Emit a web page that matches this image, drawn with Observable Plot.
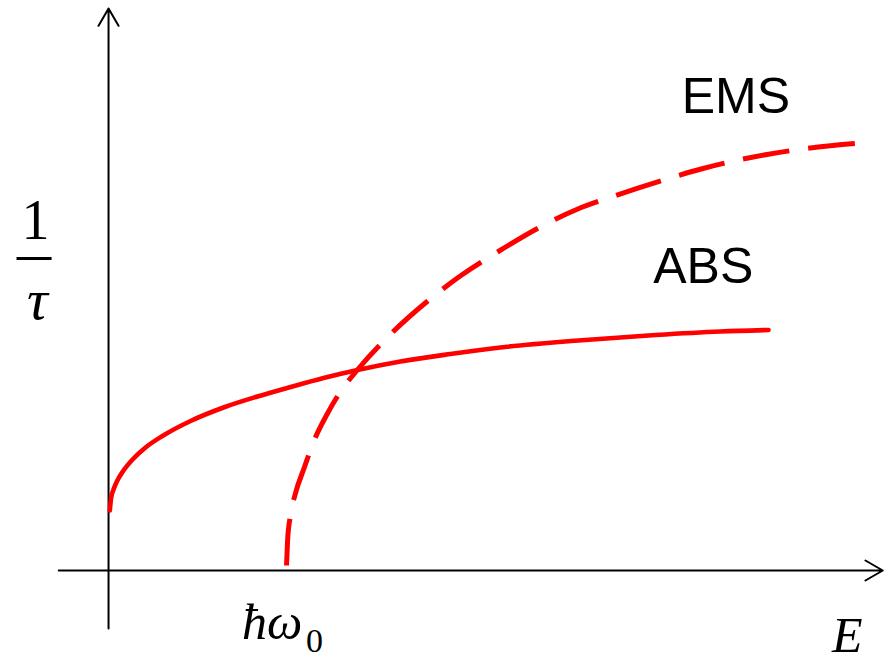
<!DOCTYPE html>
<html>
<head>
<meta charset="utf-8">
<script src="https://cdn.jsdelivr.net/npm/d3@7"></script>
<script src="https://cdn.jsdelivr.net/npm/@observablehq/plot@0.6"></script>
<style>
  html, body { margin: 0; padding: 0; background: #fff; }
  #chart svg { display: block; }
</style>
</head>
<body>
<div id="chart"></div>
<script>
// Energy E in units of ħω0, scattering rate 1/τ in arbitrary units
const absE = [0.0073, 0.014, 0.028, 0.051, 0.084, 0.135, 0.208, 0.303, 0.461, 0.646, 0.837, 1.023, 1.208, 1.399, 1.640, 1.921, 2.202, 2.640, 3.073, 3.438, 3.708];
const absR = [0.60, 0.72, 0.81, 0.905, 1.00, 1.11, 1.23, 1.345, 1.495, 1.63, 1.74, 1.835, 1.925, 2.005, 2.09, 2.165, 2.23, 2.30, 2.355, 2.39, 2.405];

const emsE = [1.00, 1.006, 1.02, 1.05, 1.10, 1.155, 1.23, 1.30, 1.40, 1.60, 1.79, 1.98, 2.19, 2.42, 2.63, 2.85, 3.11, 3.34, 3.58, 3.84, 4.07, 4.20];
const emsR = [0.05, 0.30, 0.53, 0.77, 1.03, 1.30, 1.57, 1.78, 2.01, 2.39, 2.69, 2.95, 3.19, 3.43, 3.61, 3.75, 3.90, 4.02, 4.12, 4.20, 4.25, 4.27];

// axis extents (data units)
const xAxisExtent = [-0.28, 4.35];
const yAxisExtent = [-0.58, 5.62];

// scale domains
const xDomain = [-0.607, 4.399];
const yDomain = [-0.86, 5.70];

// labels
const curveLabels = [
  {text: "EMS", E: 3.22, r: 4.575},
  {text: "ABS", E: 3.06, r: 2.875}
];
const hwLabel = {text: "ħω", E: 0.75, r: -0.683};
const hwSub = {text: "0", E: 1.11, r: -0.81};
const eLabel = {text: "E", E: 4.065, r: -0.815};
const oneLabel = {text: "1", E: -0.41, r: 3.32};
const tauLabel = {text: "τ", E: -0.40, r: 2.52};
const fracBar = {E1: -0.517, E2: -0.32, r: 3.12};

const abs = absE.map((e, i) => ({E: e, r: absR[i]}));
const ems = emsE.map((e, i) => ({E: e, r: emsR[i]}));

const serif = "'Liberation Serif', 'Times New Roman', serif";
const sans = "'Liberation Sans', Arial, sans-serif";

const chart = Plot.plot({
  width: 891,
  height: 656,
  margin: 0,
  style: {background: "#fff"},
  x: {domain: xDomain, range: [0, 891], axis: null},
  y: {domain: yDomain, range: [656, 0], axis: null},
  marks: [
    Plot.arrow([0], {x1: xAxisExtent[0], x2: xAxisExtent[1], y1: 0, y2: 0,
      stroke: "black", strokeWidth: 2, headAngle: 60, headLength: 15}),
    Plot.arrow([0], {x1: 0, x2: 0, y1: yAxisExtent[0], y2: yAxisExtent[1],
      stroke: "black", strokeWidth: 2, headAngle: 60, headLength: 15}),
    Plot.line(abs, {x: "E", y: "r", stroke: "#ff0000", strokeWidth: 4.6, curve: "monotone-x"}),
    Plot.line(ems, {x: "E", y: "r", stroke: "#ff0000", strokeWidth: 5, curve: "monotone-x",
      strokeDasharray: "47,19", strokeLinecap: "butt"}),
    Plot.text(curveLabels, {x: "E", y: "r", text: "text", textAnchor: "start", lineAnchor: "bottom",
      fontFamily: sans, fontSize: 50, fill: "black"}),
    Plot.text([hwLabel], {x: "E", y: "r", text: "text", textAnchor: "start", lineAnchor: "bottom",
      fontFamily: serif, fontStyle: "italic", fontSize: 50, fill: "black"}),
    Plot.text([hwSub], {x: "E", y: "r", text: "text", textAnchor: "start", lineAnchor: "bottom",
      fontFamily: serif, fontSize: 34, fill: "black"}),
    Plot.text([eLabel], {x: "E", y: "r", text: "text", textAnchor: "start", lineAnchor: "bottom",
      fontFamily: serif, fontStyle: "italic", fontSize: 50, fill: "black"}),
    Plot.text([oneLabel], {x: "E", y: "r", text: "text", textAnchor: "middle", lineAnchor: "bottom",
      fontFamily: serif, fontSize: 56, fill: "black"}),
    Plot.text([tauLabel], {x: "E", y: "r", text: "text", textAnchor: "middle", lineAnchor: "bottom",
      fontFamily: serif, fontStyle: "italic", fontSize: 58, fill: "black"}),
    Plot.link([fracBar], {x1: "E1", x2: "E2", y1: "r", y2: "r", stroke: "black", strokeWidth: 3})
  ]
});
document.getElementById("chart").appendChild(chart);
</script>
</body>
</html>
